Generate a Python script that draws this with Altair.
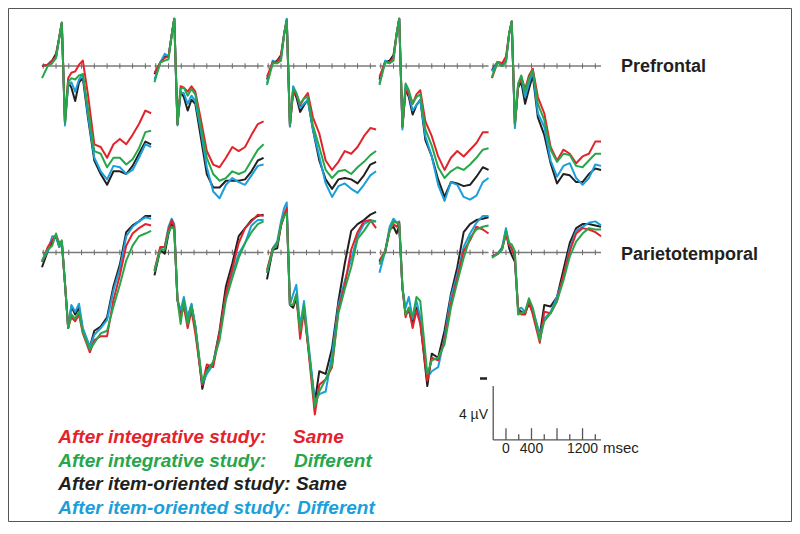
import altair as alt
import pandas as pd

# ---- time points (ms) at which the waveforms were read ----
T_PF = [-220, -130, -60, 0, 50, 90, 140, 190, 240, 300, 360, 420, 500, 600, 700, 800, 900, 1000, 1100, 1200, 1300, 1400, 1490]
T_PT = [-220, -130, -60, 0, 50, 90, 140, 190, 240, 300, 360, 420, 530, 600, 700, 800, 900, 1000, 1100, 1200, 1300, 1400, 1490]

CONDITIONS = [
    "After integrative study: Same",
    "After integrative study: Different",
    "After item-oriented study: Same",
    "After item-oriented study: Different",
]
COLORS = ["#E3232C", "#27A64B", "#231F20", "#1A9FDB"]
REGIONS = ["Prefrontal", "Parietotemporal"]

# ---- amplitudes (microvolts, negative up) : Prefrontal ----
pf1_red = [0.0, -0.1, -0.4, -0.7, -2.1, -3.2, 4.2, 0.9, 0.5, 0.4, -0.1, -0.4, 2.1, 5.8, 6.0, 6.8, 5.8, 5.4, 5.8, 5.1, 4.3, 3.3, 3.5]
pf1_green = [0.9, 0.0, -0.2, -0.6, -2.1, -3.2, 4.2, 1.2, 0.9, 1.0, 0.7, 0.6, 3.1, 6.3, 6.5, 7.5, 6.8, 6.8, 7.3, 6.9, 6.1, 4.9, 4.8]
pf1_black = [0.0, -0.1, -0.4, -0.9, -2.1, -3.2, 4.2, 1.2, 1.6, 2.6, 1.2, 0.9, 3.8, 7.0, 8.0, 8.8, 7.8, 7.8, 8.0, 7.4, 6.5, 5.6, 5.8]
pf1_blue = [0.0, -0.1, -0.4, -0.6, -2.1, -3.2, 4.4, 1.4, 1.2, 1.9, 1.0, 0.6, 3.6, 6.8, 7.8, 8.4, 7.4, 7.5, 8.0, 7.7, 6.8, 5.8, 6.0]

pf2_red = [0.5, -0.25, -0.6, -0.7, -2.3, -3.5, 4.3, 1.5, 1.6, 1.9, 1.5, 1.9, 3.8, 6.3, 7.3, 7.5, 6.8, 6.0, 6.3, 6.0, 5.1, 4.3, 4.1]
pf2_green = [1.2, -0.25, -0.4, -0.5, -2.3, -3.5, 4.3, 1.7, 1.6, 2.2, 1.7, 2.1, 4.3, 6.8, 8.0, 8.5, 8.3, 7.8, 8.0, 7.8, 7.0, 6.2, 5.8]
pf2_black = [0.6, -0.25, -0.7, -0.7, -2.3, -3.5, 4.3, 1.9, 2.3, 3.3, 2.5, 2.8, 5.1, 8.0, 9.0, 9.0, 8.5, 8.5, 8.5, 8.4, 7.8, 7.0, 6.8]
pf2_blue = [1.0, -0.25, -0.9, -0.7, -2.3, -3.5, 4.4, 2.0, 2.0, 2.8, 2.2, 2.6, 4.6, 7.5, 9.3, 9.8, 8.8, 8.3, 8.6, 8.8, 8.1, 7.4, 7.3]

pf3_red = [0.8, -0.3, -0.3, -0.7, -2.4, -3.4, 4.4, 2.0, 2.1, 2.9, 2.4, 2.0, 3.8, 5.0, 7.0, 7.7, 7.1, 6.3, 6.5, 6.0, 5.2, 4.6, 4.7]
pf3_green = [1.4, -0.2, -0.2, -0.4, -2.4, -3.4, 4.4, 1.7, 2.0, 2.8, 2.4, 2.3, 4.4, 6.0, 7.7, 8.3, 7.8, 7.7, 8.0, 7.5, 7.1, 6.6, 6.3]
pf3_black = [1.0, -0.2, -0.4, -0.8, -2.4, -3.4, 4.4, 1.8, 2.3, 3.4, 2.9, 2.5, 4.7, 7.0, 8.4, 9.1, 8.4, 8.3, 8.4, 8.7, 8.1, 7.3, 7.1]
pf3_blue = [1.3, -0.4, -0.2, -0.6, -2.4, -3.5, 4.5, 1.5, 2.0, 3.1, 2.8, 2.5, 4.7, 6.7, 8.7, 9.7, 8.9, 8.7, 9.1, 9.4, 8.8, 8.1, 7.8]

pf4_red = [0.8, -0.3, -0.3, -0.6, -2.4, -3.5, 4.5, 1.8, 2.0, 2.8, 2.1, 1.8, 4.1, 5.2, 6.7, 7.7, 6.8, 6.3, 6.7, 6.2, 5.7, 4.9, 4.9]
pf4_green = [1.4, -0.3, -0.2, -0.4, -2.4, -3.5, 4.5, 1.3, 1.8, 2.8, 2.3, 2.1, 4.7, 5.9, 7.5, 8.3, 7.8, 7.5, 7.7, 7.3, 6.8, 6.2, 6.1]
pf4_black = [1.0, -0.3, -0.4, -0.8, -2.4, -3.5, 4.5, 1.7, 2.3, 3.6, 2.9, 2.5, 5.5, 6.7, 8.4, 9.7, 8.6, 8.7, 8.9, 8.8, 8.2, 7.5, 7.7]
pf4_blue = [1.3, -0.4, -0.2, -0.6, -2.4, -3.5, 4.7, 1.4, 2.1, 3.3, 2.9, 2.5, 5.2, 6.7, 8.8, 10.0, 8.6, 8.8, 9.7, 9.9, 9.6, 8.6, 8.3]

pf5_red = [0.9, -0.3, -0.2, -0.7, -2.4, -3.3, 4.3, 1.6, 0.8, 1.7, 0.7, 0.2, 2.3, 3.5, 6.0, 7.0, 6.2, 6.5, 7.2, 6.7, 6.5, 5.6, 5.6]
pf5_green = [0.8, -0.3, 0.0, -0.3, -2.4, -3.3, 4.3, 1.3, 0.7, 1.9, 0.9, 0.3, 2.8, 4.0, 6.2, 7.1, 6.5, 6.6, 7.4, 7.5, 7.0, 6.5, 6.5]
pf5_black = [0.3, -0.3, 0.0, -0.4, -2.4, -3.3, 4.3, 1.6, 1.2, 2.8, 1.7, 0.7, 3.8, 5.1, 7.2, 8.7, 8.0, 8.1, 8.6, 8.6, 8.0, 7.6, 7.7]
pf5_blue = [0.4, -0.3, -0.2, -0.4, -2.4, -3.3, 4.6, 1.4, 0.9, 2.3, 1.3, 0.4, 3.5, 4.5, 7.0, 8.2, 7.4, 7.2, 8.3, 8.8, 8.3, 7.3, 7.4]

# ---- amplitudes (microvolts, negative up) : Parietotemporal ----
pt1_red = [0.7, -0.4, -0.9, -1.3, -0.7, -0.8, 2.3, 5.6, 4.8, 5.1, 4.6, 6.0, 7.4, 6.5, 6.2, 6.2, 3.5, 1.7, -0.5, -1.4, -1.8, -2.1, -2.0]
pt1_green = [0.6, -0.2, -0.5, -1.4, -0.5, -0.9, 2.3, 5.6, 4.6, 4.9, 4.4, 5.9, 7.2, 6.7, 6.0, 5.8, 4.0, 2.4, 0.6, -0.5, -1.2, -1.4, -1.6]
pt1_black = [1.1, -0.1, -0.8, -1.2, -0.4, -0.8, 2.3, 5.6, 4.0, 4.6, 4.1, 5.8, 7.0, 5.8, 5.5, 4.8, 2.5, 0.9, -1.5, -2.0, -2.3, -2.7, -2.7]
pt1_blue = [0.7, -0.1, -1.2, -1.2, -0.4, -0.8, 2.3, 5.6, 3.9, 4.4, 3.8, 5.6, 7.0, 6.1, 5.6, 5.0, 2.8, 1.2, -1.2, -1.9, -2.3, -2.6, -2.5]

pt2_red = [1.3, -0.4, -0.4, -1.7, -2.4, -1.9, 3.5, 4.8, 4.0, 5.6, 4.3, 6.0, 9.8, 8.3, 8.5, 6.0, 3.0, 1.2, -0.7, -1.8, -2.3, -2.8, -2.7]
pt2_green = [1.4, -0.2, -0.2, -1.5, -1.9, -1.7, 3.5, 5.3, 3.5, 5.3, 4.0, 5.5, 9.6, 8.8, 8.1, 6.5, 3.5, 1.9, 0.4, -0.7, -1.5, -2.1, -2.3]
pt2_black = [1.7, -0.2, 0.1, -1.4, -2.1, -1.7, 3.5, 4.5, 3.8, 4.8, 3.9, 5.5, 10.1, 8.6, 8.2, 5.8, 2.5, 0.8, -1.2, -1.8, -2.4, -2.7, -2.8]
pt2_blue = [1.4, -0.3, -0.4, -1.9, -2.5, -2.1, 3.5, 4.3, 3.3, 4.8, 3.8, 5.4, 9.8, 9.0, 8.3, 6.0, 3.2, 1.6, 0.1, -0.7, -2.0, -2.4, -2.4]

pt3_red = [1.3, -0.3, -0.6, -2.0, -2.8, -3.3, 3.9, 3.9, 3.1, 6.4, 4.3, 6.8, 12.0, 9.8, 9.4, 8.5, 4.2, 2.4, -0.2, -1.5, -2.3, -2.4, -1.8]
pt3_green = [1.5, -0.2, -0.6, -2.1, -2.7, -2.9, 3.9, 3.9, 3.1, 5.8, 3.9, 6.6, 11.4, 10.3, 9.4, 8.3, 4.5, 2.7, 1.1, -1.0, -1.6, -2.3, -2.3]
pt3_black = [2.0, -0.2, -0.3, -2.0, -2.7, -3.1, 3.9, 4.1, 3.4, 5.6, 4.1, 6.7, 11.1, 8.8, 9.0, 7.1, 3.6, 0.8, -1.6, -2.1, -2.4, -2.8, -3.0]
pt3_blue = [1.5, -0.3, -0.8, -2.3, -3.3, -3.7, 3.9, 3.1, 2.4, 5.5, 3.6, 6.3, 11.0, 10.5, 10.3, 7.6, 3.9, 2.1, 0.5, -1.2, -2.1, -2.4, -2.3]

pt4_red = [0.6, -0.1, -1.6, -2.1, -1.9, -2.2, 2.6, 4.8, 4.1, 5.6, 4.3, 5.3, 9.5, 7.8, 8.0, 6.5, 3.8, 1.9, -0.1, -0.9, -1.9, -1.7, -1.4]
pt4_green = [0.9, -0.1, -1.6, -2.3, -2.2, -2.1, 2.6, 4.6, 4.1, 4.8, 3.3, 3.6, 9.0, 8.0, 7.8, 6.8, 4.1, 2.2, 0.4, -1.1, -1.7, -1.9, -2.0]
pt4_black = [0.7, 0.0, -1.7, -1.9, -1.4, -2.0, 2.6, 4.6, 4.3, 5.3, 4.1, 5.1, 9.9, 7.5, 7.8, 5.8, 3.1, 1.1, -1.5, -2.1, -2.4, -2.5, -2.6]
pt4_blue = [1.5, -0.1, -1.9, -2.5, -2.2, -2.3, 2.6, 4.1, 3.3, 4.9, 3.6, 4.8, 9.3, 8.8, 8.5, 6.3, 3.3, 1.6, -0.4, -1.4, -2.2, -2.7, -2.7]

pt5_red = [0.3, 0.1, -0.3, -1.3, -0.6, -0.3, 0.4, 4.2, 4.6, 4.6, 3.6, 4.6, 6.7, 4.4, 4.5, 3.6, 1.7, -0.1, -1.4, -1.8, -1.7, -1.5, -1.2]
pt5_green = [0.4, 0.1, -0.2, -1.6, -0.7, -0.6, -0.1, 4.6, 4.5, 4.4, 3.4, 4.1, 6.5, 5.1, 4.5, 3.6, 2.1, 0.3, -0.8, -1.4, -1.8, -1.7, -1.7]
pt5_black = [0.3, 0.1, -0.3, -1.6, -0.3, 0.2, 0.7, 4.2, 4.4, 4.5, 3.8, 4.4, 6.1, 3.9, 4.0, 3.3, 1.3, -0.7, -1.8, -2.1, -2.1, -2.0, -1.9]
pt5_blue = [0.3, 0.1, -0.4, -1.8, -0.6, -0.2, 0.4, 4.2, 4.1, 4.4, 3.5, 4.2, 6.1, 4.9, 4.4, 3.3, 1.8, -0.3, -1.6, -1.9, -2.2, -2.3, -2.0]

PF = [
    [pf1_red, pf1_green, pf1_black, pf1_blue],
    [pf2_red, pf2_green, pf2_black, pf2_blue],
    [pf3_red, pf3_green, pf3_black, pf3_blue],
    [pf4_red, pf4_green, pf4_black, pf4_blue],
    [pf5_red, pf5_green, pf5_black, pf5_blue],
]
PT = [
    [pt1_red, pt1_green, pt1_black, pt1_blue],
    [pt2_red, pt2_green, pt2_black, pt2_blue],
    [pt3_red, pt3_green, pt3_black, pt3_blue],
    [pt4_red, pt4_green, pt4_black, pt4_blue],
    [pt5_red, pt5_green, pt5_black, pt5_blue],
]

# ---- layout constants ----
STRIDE = 1763          # ms between panel origins on the shared x scale
ROW_GAP = 13.81        # microvolts between prefrontal and parietotemporal rows
BAR_ROW = 27.70        # baseline of the calibration bar
W, H = 784, 514
PX_PER_UV = 13.5
X_DOMAIN = [-753, 11535]
Y_DOMAIN = [-4.296, -4.296 + H / PX_PER_UV]
FONT = "Liberation Sans"

rows = []
for region, times, panels in (("Prefrontal", T_PF, PF), ("Parietotemporal", T_PT, PT)):
    for p, conds in enumerate(panels):
        for cond, vals in zip(CONDITIONS, conds):
            for t, v in zip(times, vals):
                rows.append({"region": region, "panel": p, "condition": cond, "t": t, "uv": v})
waves = pd.DataFrame(rows)

xs = alt.Scale(domain=X_DOMAIN, nice=False, zero=False)
ys = alt.Scale(domain=Y_DOMAIN, nice=False, zero=False, reverse=True)
cs = alt.Scale(domain=CONDITIONS, range=COLORS)

row_expr = f"(datum.region == 'Parietotemporal' ? {ROW_GAP} : 0)"

wave_base = alt.Chart(waves).transform_calculate(
    gx=f"datum.t + datum.panel * {STRIDE}",
    gy=f"datum.uv + {row_expr}",
    series="datum.region + '-' + datum.panel",
)


def wave_layer(cond):
    return wave_base.transform_filter(alt.datum.condition == cond).mark_line(
        strokeWidth=2, strokeJoin="round"
    ).encode(
        x=alt.X("gx:Q", scale=xs, axis=None),
        y=alt.Y("gy:Q", scale=ys, axis=None),
        detail="series:N",
        color=alt.Color("condition:N", scale=cs, legend=None),
    )


# ---- panel baselines with ticks ----
panel_rows = pd.DataFrame([{"region": r, "panel": p} for r in REGIONS for p in range(5)])
baselines = alt.Chart(panel_rows).transform_calculate(
    x1=f"-220 + datum.panel * {STRIDE}",
    x2=f"1490 + datum.panel * {STRIDE}",
    y0=row_expr,
).mark_rule(color="#7a7a7a", strokeWidth=1.4).encode(
    x=alt.X("x1:Q", scale=xs, axis=None), x2="x2:Q",
    y=alt.Y("y0:Q", scale=ys, axis=None),
)

TICK_TIMES = list(range(-200, 1401, 200))
tick_rows = pd.DataFrame([{"region": r, "panel": p, "t": t}
                          for r in REGIONS for p in range(5) for t in TICK_TIMES])
ticks = alt.Chart(tick_rows).transform_calculate(
    gx=f"datum.t + datum.panel * {STRIDE}",
    ya=f"{row_expr} - 0.2",
    yb=f"{row_expr} + 0.2",
).mark_rule(color="#6a6a6a", strokeWidth=1).encode(
    x=alt.X("gx:Q", scale=xs, axis=None),
    y=alt.Y("ya:Q", scale=ys, axis=None), y2="yb:Q",
)

# ---- calibration bar (aligned with the fifth panel) ----
bar_axes = pd.DataFrame([
    {"t1": -200, "t2": 1490, "v1": BAR_ROW, "v2": BAR_ROW},
    {"t1": -200, "t2": -200, "v1": BAR_ROW - 4, "v2": BAR_ROW},
])
bar = alt.Chart(bar_axes).transform_calculate(
    g1=f"datum.t1 + 4 * {STRIDE}", g2=f"datum.t2 + 4 * {STRIDE}"
).mark_rule(color="#555555", strokeWidth=1.3).encode(
    x=alt.X("g1:Q", scale=xs, axis=None), x2="g2:Q",
    y=alt.Y("v1:Q", scale=ys, axis=None), y2="v2:Q",
)
BAR_TICKS = [0, 200, 400, 600, 800, 1000, 1200, 1400]
bar_tick_df = pd.DataFrame({"t": BAR_TICKS})
bar_ticks = alt.Chart(bar_tick_df).transform_calculate(
    gx=f"datum.t + 4 * {STRIDE}",
    top=f"{BAR_ROW} - (datum.t % 400 == 0 ? 0.87 : 0.43)",
    bot=f"{BAR_ROW}",
).mark_rule(color="#555555", strokeWidth=1.3).encode(
    x=alt.X("gx:Q", scale=xs, axis=None),
    y=alt.Y("top:Q", scale=ys, axis=None), y2="bot:Q",
)
BAR_LABELS = ["0", "400", "1200"]
bar_lab_df = pd.DataFrame({"t": [0, 400, 1200], "label": BAR_LABELS})
bar_labels = alt.Chart(bar_lab_df).transform_calculate(
    gx=f"datum.t + 4 * {STRIDE}"
).mark_text(font=FONT, fontSize=14, align="center", baseline="alphabetic", color="#231F20").encode(
    x=alt.X("gx:Q", scale=xs, axis=None), y=alt.value(445), text="label:N",
)

# ---- free text annotations (pixel positions) ----
notes = pd.DataFrame([
    {"txt": "Prefrontal", "px": 613, "py": 63.5, "size": 18, "weight": "bold"},
    {"txt": "Parietotemporal", "px": 613, "py": 251.5, "size": 18, "weight": "bold"},
    {"txt": "msec", "px": 595, "py": 445, "size": 15, "weight": "normal"},
])
note_layers = []
for _, r in notes.iterrows():
    note_layers.append(
        alt.Chart(pd.DataFrame([r])).mark_text(
            font=FONT, fontSize=r["size"], fontWeight=r["weight"], align="left",
            baseline="alphabetic", color="#231F20",
        ).encode(x=alt.X("px:Q", scale=None), y=alt.Y("py:Q", scale=None), text="txt:N")
    )

uv_label = alt.Chart(pd.DataFrame({"txt": ["4  \u00b5V"]})).mark_text(
    font=FONT, fontSize=14, align="right", baseline="alphabetic", color="#231F20"
).encode(x=alt.value(480), y=alt.value(411), text="txt:N")

minus_mark = alt.Chart(pd.DataFrame({"k": [0]})).mark_rule(color="#231F20", strokeWidth=2.5).encode(
    x=alt.value(472), x2=alt.value(479), y=alt.value(370.5)
)

# ---- outer frame ----
frame = alt.Chart(pd.DataFrame({"k": [0]})).mark_rect(
    fill=None, stroke="#555555", strokeWidth=1, clip=False
).encode(
    x=alt.value(0.5), x2=alt.value(W - 0.5), y=alt.value(0.5), y2=alt.value(H - 0.5)
)

# ---- legend as coloured text ----
LEG_LEFT = ["After integrative study:", "After integrative study:",
            "After item-oriented study:", "After item-oriented study:"]
LEG_RIGHT = ["Same", "Different", "Same", "Different"]
leg_df = pd.DataFrame({
    "condition": CONDITIONS,
    "left": LEG_LEFT,
    "right": LEG_RIGHT,
    "py": [435.3, 458.7, 482.0, 506.0],
    "lx": [50.3, 50.3, 50.3, 50.3],
    "rx": [285.0, 286.0, 288.0, 289.0],
})
leg_style = dict(font=FONT, fontSize=19, fontWeight="bold", fontStyle="italic",
                 align="left", baseline="alphabetic")
legend_left = alt.Chart(leg_df).mark_text(**leg_style).encode(
    x=alt.X("lx:Q", scale=None), y=alt.Y("py:Q", scale=None), text="left:N",
    color=alt.Color("condition:N", scale=cs, legend=None),
)
legend_right = alt.Chart(leg_df).mark_text(**leg_style).encode(
    x=alt.X("rx:Q", scale=None), y=alt.Y("py:Q", scale=None), text="right:N",
    color=alt.Color("condition:N", scale=cs, legend=None),
)

chart = alt.layer(
    frame, baselines, ticks,
    wave_layer(CONDITIONS[2]), wave_layer(CONDITIONS[3]),
    wave_layer(CONDITIONS[0]), wave_layer(CONDITIONS[1]),
    bar, bar_ticks, bar_labels, uv_label, minus_mark,
    *note_layers, legend_left, legend_right,
).properties(
    width=W, height=H, padding=0, autosize=alt.AutoSizeParams(type="none"),
).configure_view(stroke=None)

chart.save("out.html", embed_options={"renderer": "svg", "actions": False})
